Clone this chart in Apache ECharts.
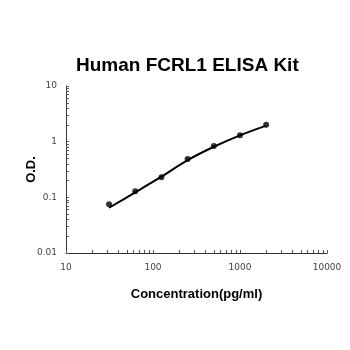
<!DOCTYPE html>
<html>
<head>
<meta charset="utf-8">
<script src="https://cdn.jsdelivr.net/npm/echarts@6/dist/echarts.min.js"></script>
<style>html,body{margin:0;padding:0;background:#fff}#c{width:350px;height:350px}</style>
</head>
<body>
<div id="c"></div>
<script>
var concentrations = [31.25, 62.5, 125, 250, 500, 1000, 2000];
var odMeasured = [0.075, 0.128, 0.23, 0.49, 0.84, 1.30, 2.02];
var odFit = [0.065, 0.123, 0.235, 0.465, 0.81, 1.30, 1.94];
var xTickLabels = [10, 100, 1000, 10000];
var yTickLabels = [0.01, 0.1, 1, 10];

function minorTicks(lo, hi) {
  var out = [];
  for (var d = lo; d < hi; d *= 10) {
    for (var k = 1; k <= 10; k++) out.push(+(d * k).toPrecision(6));
  }
  return out;
}
function fmt(v) { return String(+v.toPrecision(6)); }

var chart = echarts.init(document.getElementById('c'));
var labelStyle = {fontFamily: 'DejaVu Sans', fontSize: 9, color: '#444'};
chart.setOption({
  animation: false,
  title: {text: 'Human FCRL1 ELISA Kit', left: 71, top: 51,
    textStyle: {fontFamily: 'Liberation Sans', fontWeight: 'bold', fontSize: 19, color: '#000'}},
  grid: {left: 66, right: 23, top: 86, bottom: 97, containLabel: false},
  xAxis: {type: 'log', logBase: 10, min: 10, max: 10000,
    name: 'Concentration(pg/ml)', nameLocation: 'middle', nameGap: 35,
    nameTextStyle: {fontFamily: 'Liberation Sans', fontWeight: 'bold', fontSize: 13, color: '#000'},
    axisLine: {lineStyle: {color: '#333', width: 1}},
    axisTick: {inside: true, length: 3, lineStyle: {color: '#555'}, customValues: minorTicks(10, 10000)},
    axisLabel: Object.assign({margin: 10, customValues: xTickLabels, formatter: fmt}, labelStyle),
    splitLine: {show: false}},
  yAxis: {type: 'log', logBase: 10, min: 0.01, max: 10,
    name: 'O.D.', nameLocation: 'middle', nameGap: 28, nameRotate: 90, nameMoveOverlap: false,
    nameTextStyle: {fontFamily: 'Liberation Sans', fontWeight: 'bold', fontSize: 13, color: '#000'},
    axisLine: {show: true, lineStyle: {color: '#333', width: 1}},
    axisTick: {show: true, inside: true, length: 3, lineStyle: {color: '#555'}, customValues: minorTicks(0.01, 10)},
    axisLabel: Object.assign({margin: 9, customValues: yTickLabels, formatter: fmt}, labelStyle),
    splitLine: {show: false}},
  series: [
    {type: 'line', data: concentrations.map(function (c, i) { return [c, odFit[i]]; }),
      smooth: 0.3, showSymbol: false, lineStyle: {color: '#000', width: 2}},
    {type: 'scatter', data: concentrations.map(function (c, i) { return [c, odMeasured[i]]; }),
      symbolSize: 6, itemStyle: {color: '#000'}}
  ]
});
</script>
</body>
</html>
